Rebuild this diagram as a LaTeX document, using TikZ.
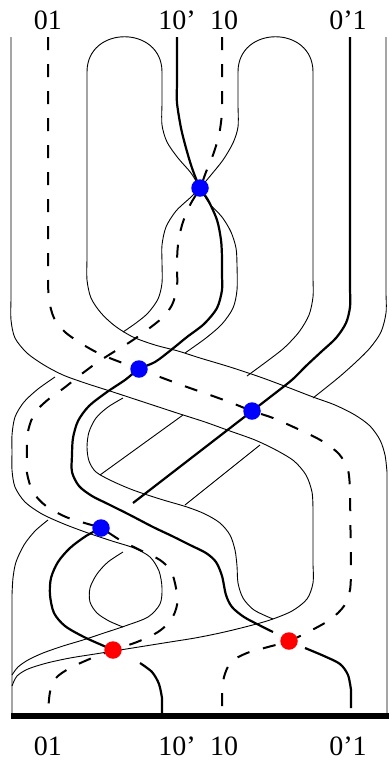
\documentclass[tikz,border=0pt]{standalone}
\usepackage{fontspec}
\setmainfont{Liberation Serif}
\usepackage{tikz}

\begin{document}
\begin{tikzpicture}[x=1pt,y=-1pt,
    rim/.style={line width=0.9pt},
    core/.style={line width=2.2pt},
    dcore/.style={line width=2pt, dash pattern=on 13pt off 14pt},
    bdot/.style={circle, fill=blue, inner sep=0pt, minimum size=17.5pt},
    rdot/.style={circle, fill=red, inner sep=0pt, minimum size=17.5pt},
    lab/.style={anchor=base, inner sep=0pt, font=\fontsize{28}{30}\selectfont}]
    \useasboundingbox (0,0) rectangle (389,772);
    % crossing points of the cores
    \coordinate (b1) at (200,188);
    \coordinate (b2) at (139,369);
    \coordinate (b3) at (252,411);
    \coordinate (b4) at (101,528);
    \coordinate (r1) at (113,650);
    \coordinate (r2) at (289,641);

    % band edges
    \draw[rim] (162,72) .. controls (162,25) and (87,25) .. (87,72)
        -- plot[smooth] coordinates {(87,260) (87,280) (91,298) (101,313) (115,326) (133,337) (155,345) (178,351) (200,358) (230,367) (260,377) (287,387) (313,397) (335,405) (355,415) (370,426) (380,440) (385,455) (387,472)}
        -- (387,713);
    \draw[rim] (238,72) .. controls (238,25) and (313,25) .. (313,72)
        -- plot[smooth] coordinates {(313,280) (313,297) (309,315) (299,332) (284,348) (266,362) (247,376)};
    \draw[rim] (11,37) -- plot[smooth] coordinates {(11,300) (11,320) (15,338) (27,353) (44,365) (63,375) (85,383) (110,391)}
        -- plot[smooth] coordinates {(180,414) (205,422) (230,431) (255,440) (276,450) (294,461) (306,475) (312,492) (313,510)}
        -- plot[smooth] coordinates {(313,565) (313,583) (307,599) (292,611) (270,620) (245,627) (220,633) (195,638) (170,642) (145,646) (120,650) (95,654) (70,658) (47,663) (28,669) (17,676) (12,686)};
    \draw[rim] (162,72) -- plot[smooth] coordinates {(162,105) (162,125) (167,142) (178,158) (191,173) (b1) (209,203) (222,217) (231,232) (236,248) (237,265) (237,290) (233,308) (222,324) (206,338) (185,353)};
    \draw[rim] (238,72) -- plot[smooth] coordinates {(238,107) (238,127) (233,143) (223,160) (211,175) (b1) (191,197) (176,211) (166,227) (162,245) (162,262) (162,283) (158,299) (148,313) (136,323) (123,332)};
    \draw[rim] (386,37) -- plot[smooth] coordinates {(386,295) (386,313) (381,332) (370,348) (356,362) (338,378) (313,398)};
    \draw[rim] (183,415) -- (100,475);
    \draw[rim] (260,445) -- (185,505);
    \draw[rim] plot[smooth] coordinates {(55,377) (38,389) (24,402) (15,417) (12,435) (12,452) (12,470) (15,487) (25,502) (42,514) (64,524) (88,533) (112,541) (134,548) (150,557) (159,571) (162,588) (160,604) (148,617) (125,626) (104,633) (83,640) (63,646) (43,653) (28,660) (18,667) (12,675)};
    \draw[rim] plot[smooth] coordinates {(123,398) (108,407) (96,418) (89,432) (87,447) (89,461) (96,472) (112,481) (133,490) (160,499) (187,507) (205,514) (220,523) (230,535) (235,550) (237,566) (238,583) (243,598) (254,610) (273,619)};
    \draw[rim] plot[smooth] coordinates {(48,520) (35,531) (24,545) (16,562) (13,578) (12,595)} -- (12,713);
    \draw[rim] plot[smooth] coordinates {(123,552) (108,562) (97,574) (90,588) (90,602) (97,613) (109,621) (123,627)};

    % dashed cores
    \draw[dcore] (48,37) -- plot[smooth] coordinates {(48,280) (49,300) (54,318) (65,332) (82,344) (100,354) (120,362) (b2) (160,377) (187,387) (210,395) (232,403) (b3) (273,418) (300,430) (322,441) (339,454) (348,470) (350,490)}
        -- plot[smooth] coordinates {(351,570) (350,590) (344,606) (331,619) (312,630) (r2) (268,647) (247,653) (231,662) (224,677) (222,695)}
        -- (222,713);
    \draw[dcore] (222,37) -- plot[smooth] coordinates {(222,95) (222,113) (219,135) (213,155) (206,172) (b1) (190,205) (182,225) (178,245) (177,263) (177,287) (172,305) (162,318) (147,330) (130,342) (112,353) (95,364) (79,376) (64,388) (50,398) (38,409) (31,421) (27,437) (27,455) (27,473) (33,492) (46,506) (66,517) (88,524) (b4) (120,540) (142,551) (160,560) (171,571) (176,588) (177,605) (171,620) (158,632) (137,642) (r1) (92,658) (70,668) (56,678) (50,692) (48,713)};

    % thick cores
    \draw[core] (177,37) -- plot[smooth] coordinates {(177,85) (177,103) (181,128) (186,148) (192,168) (b1) (208,200) (217,220) (221,240) (222,258) (222,275) (222,290) (217,308) (204,324) (187,337) (171,350) (155,362) (b2) (125,380) (107,392) (89,406) (78,421) (73,438) (72,455) (72,472) (79,486) (92,496) (108,504) (130,515) (153,527) (172,536) (190,545) (206,553) (216,562) (222,576) (226,595) (232,607) (244,617) (259,625) (273,632)};
    \draw[core] plot[smooth] coordinates {(305,648) (324,656) (340,664) (348,675) (351,690)} -- (351,708);
    \draw[core] (350,37) -- plot[smooth] coordinates {(350,290) (350,307) (346,323) (336,338) (321,352) (306,366) (293,379) (278,391)} -- (133,503);
    \draw[core] plot[smooth] coordinates {(b4) (86,536) (70,548) (58,562) (51,578) (50,595) (54,613) (65,626) (84,637) (104,646) (r1)};
    \draw[core] plot[smooth] coordinates {(140,663) (152,672) (159,684) (162,698)} -- (162,713);

    % base
    \fill (11,713) rectangle (389,719);

    % dots
    \node[bdot] (n1) at (b1) {};
    \node[bdot] (n2) at (b2) {};
    \node[bdot] (n3) at (b3) {};
    \node[bdot] (n4) at (b4) {};
    \node[rdot] (m1) at (r1) {};
    \node[rdot] (m2) at (r2) {};

    % labels
    \node[lab] (t1) at (48,29) {01};
    \node[lab] (t2) at (177,29) {10’};
    \node[lab] (t3) at (224,29) {10};
    \node[lab] (t4) at (348,29) {0’1};
    \node[lab] (u1) at (48,755) {01};
    \node[lab] (u2) at (177,755) {10’};
    \node[lab] (u3) at (224,755) {10};
    \node[lab] (u4) at (348,755) {0’1};
\end{tikzpicture}
\end{document}
